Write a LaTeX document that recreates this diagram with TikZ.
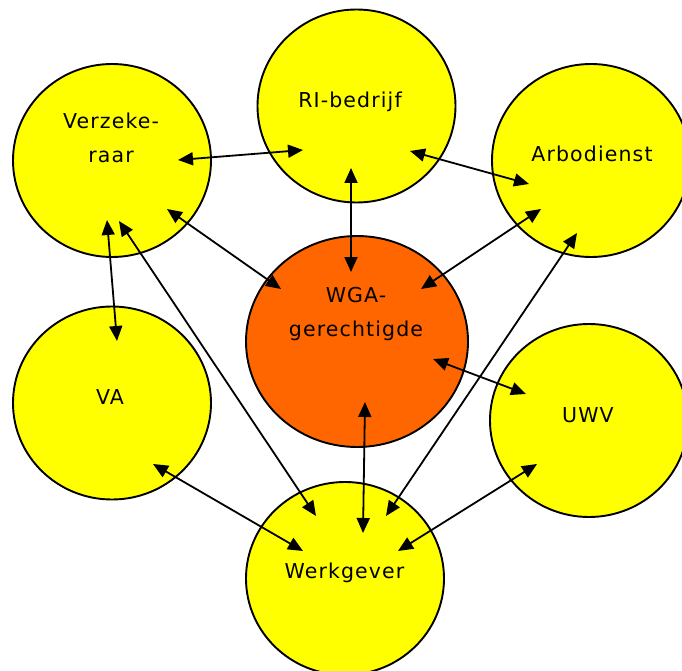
\documentclass[tikz,border=0pt]{standalone}
\usepackage{fontspec}
\setmainfont{DejaVu Sans}[LetterSpace=5.5]
\usetikzlibrary{arrows.meta,shapes.geometric}
\definecolor{circyellow}{HTML}{FFFF00}
\definecolor{circorange}{HTML}{FF6600}
\begin{document}
\begin{tikzpicture}[x=1pt,y=-1pt,
  circ/.style={ellipse,draw=black,line width=1.9pt,fill=circyellow,minimum width=198pt,minimum height=193pt,inner sep=0pt},
  lbl/.style={anchor=base,align=center,font=\fontsize{20.5}{34.5}\selectfont,text=black,inner sep=0pt},
  link/.style={line width=1.8pt,{Triangle[length=15pt,width=13pt]}-{Triangle[length=15pt,width=13pt]}}]
\useasboundingbox (0,0) rectangle (682,671);
\clip (0,0) rectangle (682,671);
\fill[white] (0,0) rectangle (682,671);
% circles
\node[circ] (vz) at (112,160.5) {};
\node[circ] (ri) at (356.5,106) {};
\node[circ] (arbo) at (591,160.5) {};
\node[circ,fill=circorange,minimum width=222pt,minimum height=211pt] (wga) at (357,341.5) {};
\node[circ] (va) at (112,403) {};
\node[circ] (uwv) at (589,420.5) {};
\node[circ] (wg) at (345,578.5) {};
% labels
\node[lbl] (vz-t) at (111,162.7) {Verzeke-\\raar};
\node[lbl] (ri-t) at (350,108) {RI-bedrijf};
\node[lbl] (arbo-t) at (592,161.7) {Arbodienst};
\node[lbl] (wga-t) at (356,336.7) {WGA-\\gerechtigde};
\node[lbl] (va-t) at (110,404.3) {VA};
\node[lbl] (uwv-t) at (588,422.3) {UWV};
\node[lbl] (wg-t) at (344.5,578.7) {Werkgever};
% arrow end points
\coordinate (vz-ri) at (178,160);   \coordinate (ri-vz) at (303,150);
\coordinate (ri-arbo) at (410,151); \coordinate (arbo-ri) at (529,184);
\coordinate (ri-wga) at (351,168);  \coordinate (wga-ri) at (351,272);
\coordinate (vz-wga) at (167,209);  \coordinate (wga-vz) at (281,289);
\coordinate (arbo-wga) at (541,209);\coordinate (wga-arbo) at (421,289);
\coordinate (vz-va) at (107,220);   \coordinate (va-vz) at (117,341);
\coordinate (vz-wg) at (119,221);   \coordinate (wg-vz) at (316,516);
\coordinate (arbo-wg) at (577,233); \coordinate (wg-arbo) at (386,516);
\coordinate (wga-uwv) at (433,359); \coordinate (uwv-wga) at (526,394);
\coordinate (wga-wg) at (365,402);  \coordinate (wg-wga) at (363,533);
\coordinate (va-wg) at (153,464);   \coordinate (wg-va) at (303,551);
\coordinate (uwv-wg) at (537,464);  \coordinate (wg-uwv) at (398,551);
% connectors
\draw[link] (vz-ri) -- (ri-vz);
\draw[link] (ri-arbo) -- (arbo-ri);
\draw[link] (ri-wga) -- (wga-ri);
\draw[link] (vz-wga) -- (wga-vz);
\draw[link] (arbo-wga) -- (wga-arbo);
\draw[link] (vz-va) -- (va-vz);
\draw[link] (vz-wg) -- (wg-vz);
\draw[link] (arbo-wg) -- (wg-arbo);
\draw[link] (wga-uwv) -- (uwv-wga);
\draw[link] (wga-wg) -- (wg-wga);
\draw[link] (va-wg) -- (wg-va);
\draw[link] (uwv-wg) -- (wg-uwv);
\end{tikzpicture}
\end{document}
